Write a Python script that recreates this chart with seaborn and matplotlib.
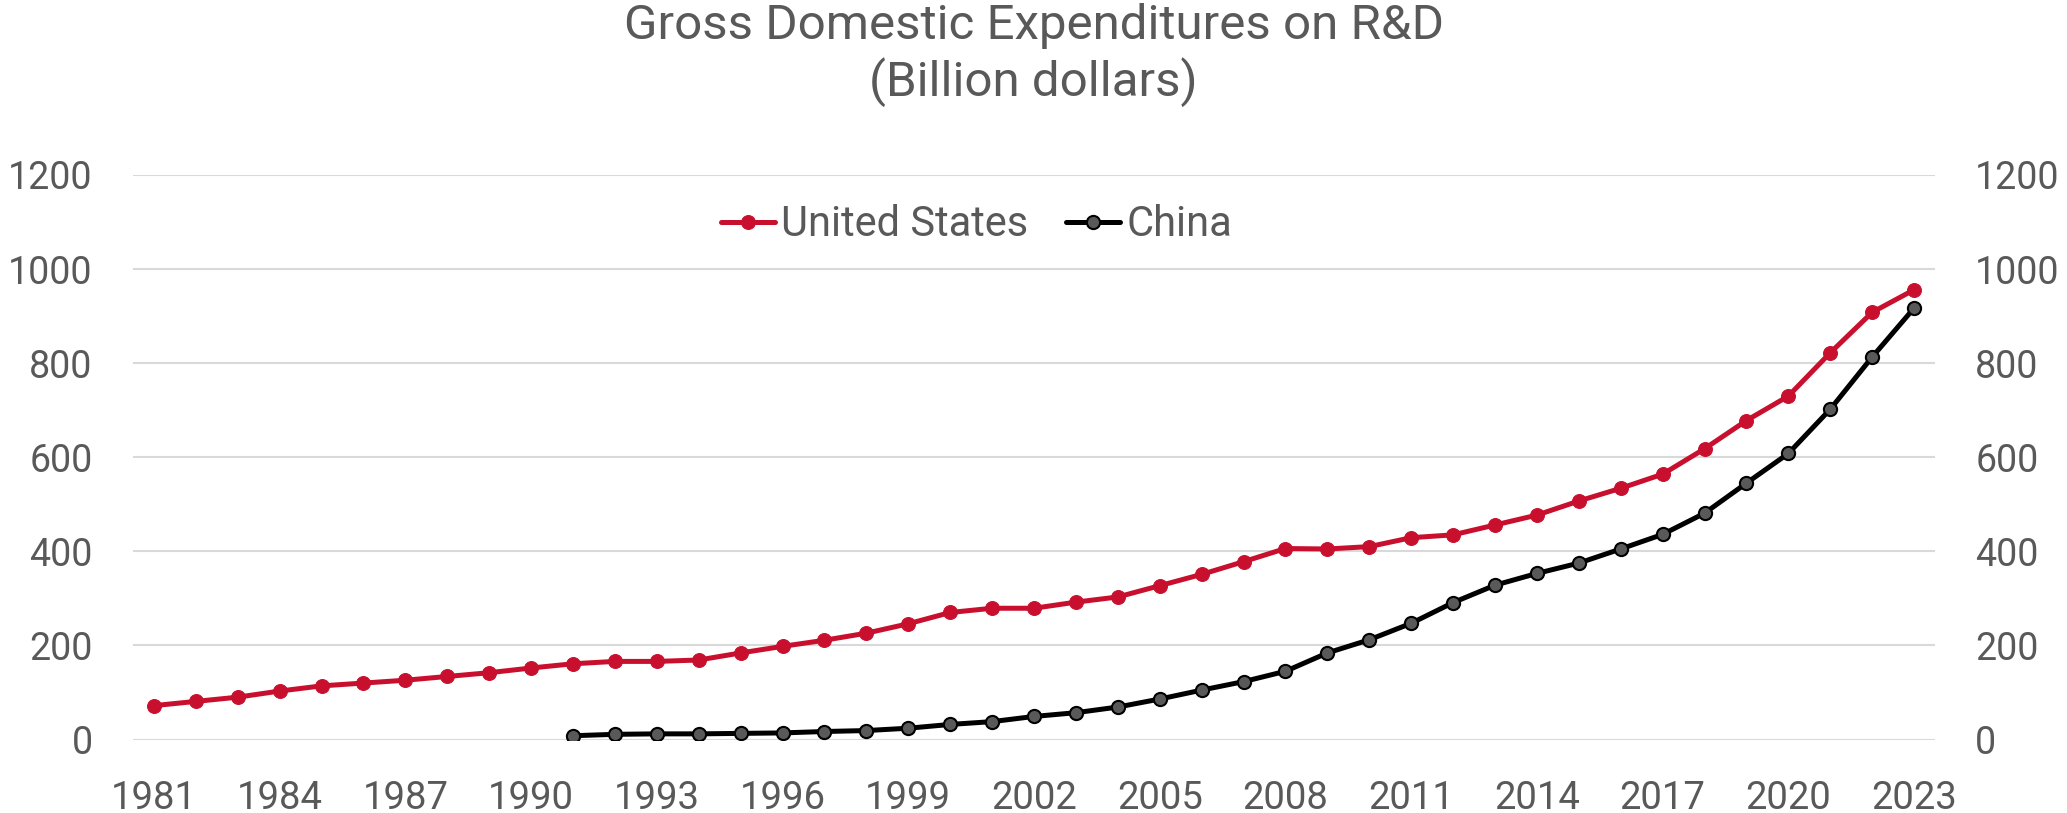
import matplotlib
matplotlib.use("Agg")
import matplotlib.pyplot as plt
import seaborn as sns

years = list(range(1981, 2024))
us_values = [72, 81, 90, 103, 114, 120, 126, 134, 142, 152,
             161, 166, 166, 169, 184, 198, 211, 226, 246, 270,
             279, 279, 292, 303, 327, 351, 378, 406, 405, 410,
             429, 435, 456, 477, 507, 534, 564, 618, 678, 730,
             822, 908, 956]
china_years = list(range(1991, 2024))
china_values = [8, 11, 12, 12, 13, 14, 17, 19, 24, 32,
                38, 49, 57, 69, 86, 105, 123, 145, 184, 212,
                247, 291, 328, 353, 375, 405, 436, 481, 545, 608,
                702, 813, 917]
tick_years = years[::3]
y_ticks = [0, 200, 400, 600, 800, 1000, 1200]
title = "Gross Domestic Expenditures on R&D\n(Billion dollars)"

sns.set_theme(style="white")
plt.rcParams['font.family'] = ['Roboto', 'DejaVu Sans']

TXT = '#595959'
fig = plt.figure(figsize=(20.67, 8.13), dpi=100)
ax = fig.add_axes([133/2067, 73.5/813, 1802/2067, 564.5/813])

sns.lineplot(x=years, y=us_values, ax=ax, color='#C8102E', linewidth=3.6,
             marker='o', markersize=10, markeredgecolor='#C8102E',
             markerfacecolor='#C8102E', label='United States')
sns.lineplot(x=china_years, y=china_values, ax=ax, color='black', linewidth=3.6,
             marker='o', markersize=9.5, markeredgecolor='black', markeredgewidth=1.5,
             markerfacecolor='#595959', label='China')

ax.set_xlim(1980.5, 2023.5)
ax.set_ylim(0, 1200)
ax.set_xticks(tick_years)
ax.set_xticklabels([str(y) for y in tick_years])
ax.set_yticks(y_ticks)
ax.set_yticklabels([str(v) for v in y_ticks])
ax.yaxis.grid(True, color='#D9D9D9', linewidth=1.5)
ax.xaxis.grid(False)
ax.set_axisbelow(True)
for s in ax.spines.values():
    s.set_visible(False)
ax.tick_params(axis='y', length=0, labelsize=27, labelcolor=TXT, pad=29,
               labelleft=True, labelright=True)
ax.tick_params(axis='x', length=0, labelsize=27.5, labelcolor=TXT, pad=29)
ax.set_xlabel('')
ax.set_ylabel('')

leg = ax.legend(loc='center', bbox_to_anchor=(0.468, 0.912), ncol=2, frameon=False,
                fontsize=30, handlelength=1.3, handletextpad=0.15, columnspacing=0.9)
for t in leg.get_texts():
    t.set_color(TXT)

fig.text(0.5, 1 - 3/813, title, ha='center', va='top', fontsize=35.5,
         color=TXT, linespacing=1.2)

fig.savefig('out.png', dpi=100)
